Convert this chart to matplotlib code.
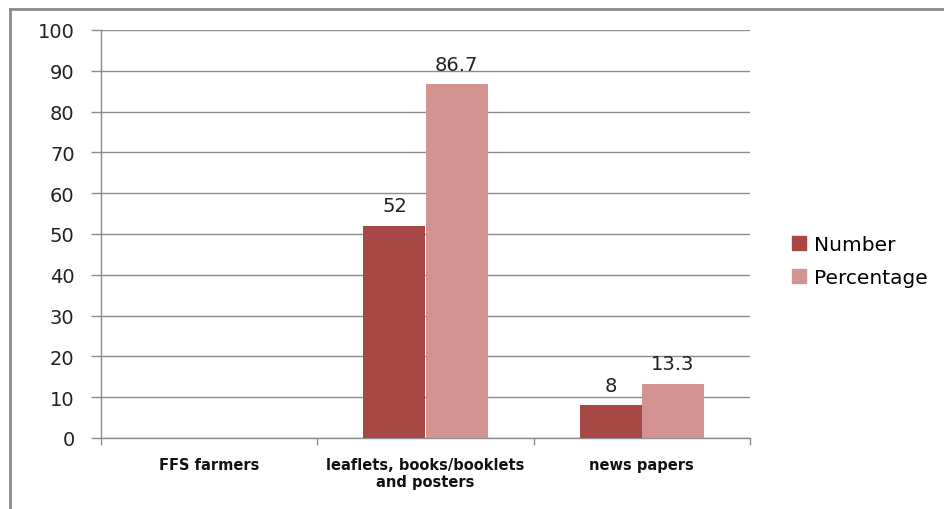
import numpy as np
import matplotlib

matplotlib.use("Agg")
import matplotlib.pyplot as plt
from matplotlib.lines import Line2D

# sources of information
categories = ["FFS farmers", "leaflets, books/booklets\nand posters", "news papers"]
number = [np.nan, 52, 8]
percentage = [np.nan, 86.7, 13.3]
series_names = ["Number", "Percentage"]
yticks = list(range(0, 101, 10))

C_NUM = "#A84846"
C_PCT = "#D39391"
GRID = "#8C8C8C"

fig = plt.figure(figsize=(9.44, 5.10), dpi=100)
fig.patch.set_facecolor("white")
ax = fig.add_axes([101 / 944, 1 - 439 / 510, 649 / 944, 408 / 510])

x = np.arange(len(categories))
w = 0.287
b1 = ax.bar(x - w / 2, number, w, color=C_NUM, label=series_names[0], zorder=3)
b2 = ax.bar(x + w / 2, percentage, w, color=C_PCT, label=series_names[1], zorder=3)

for bars, vals in ((b1, number), (b2, percentage)):
    for rect, v in zip(bars, vals):
        if np.isnan(v):
            continue
        ax.text(rect.get_x() + rect.get_width() / 2, v + 4.9, f"{v:g}",
                ha="center", va="center", fontsize=14, color="#222222",
                family="DejaVu Sans")

ax.set_xlim(-0.5, len(categories) - 0.5)
ax.set_ylim(0, 100)
ax.set_yticks(yticks)
ax.set_yticklabels([str(t) for t in yticks], fontsize=14, color="#222222",
                   family="DejaVu Sans")
ax.yaxis.grid(True, color=GRID, lw=1, zorder=0)
ax.set_axisbelow(True)
ax.tick_params(axis="y", length=7, color=GRID, pad=12, width=1)

# category boundary ticks below the baseline
ax.set_xticks(np.arange(-0.5, len(categories), 1.0))
ax.set_xticklabels([])
ax.tick_params(axis="x", length=5, color=GRID, direction="out", width=1)
ax.set_xticks(x, minor=True)
ax.set_xticklabels(categories, minor=True, fontsize=10.5, fontweight="bold",
                   family="DejaVu Sans", color="#111111", linespacing=1.1)
ax.tick_params(axis="x", which="minor", length=0, pad=14)

for s in ("top", "right"):
    ax.spines[s].set_visible(False)
for s in ("left", "bottom"):
    ax.spines[s].set_color(GRID)
    ax.spines[s].set_linewidth(1)

handles = [Line2D([], [], marker="s", ls="", markersize=10, color=c)
           for c in (C_NUM, C_PCT)]
fig.legend(handles, series_names, loc="center left",
           bbox_to_anchor=(790 / 944, 1 - 262 / 510), frameon=False,
           handlelength=0.9, handletextpad=0.3, labelspacing=0.7,
           borderaxespad=0.0, borderpad=0.0,
           prop={"family": "DejaVu Sans", "size": 14.5})

# outer chart frame
fig.add_artist(Line2D([10 / 944, 10 / 944], [0, 1 - 10 / 510],
                      transform=fig.transFigure, color="#8A8A8A", lw=2))
fig.add_artist(Line2D([10 / 944, 1], [1 - 10 / 510, 1 - 10 / 510],
                      transform=fig.transFigure, color="#8A8A8A", lw=2))

fig.savefig("out.png", dpi=100, facecolor="white")
